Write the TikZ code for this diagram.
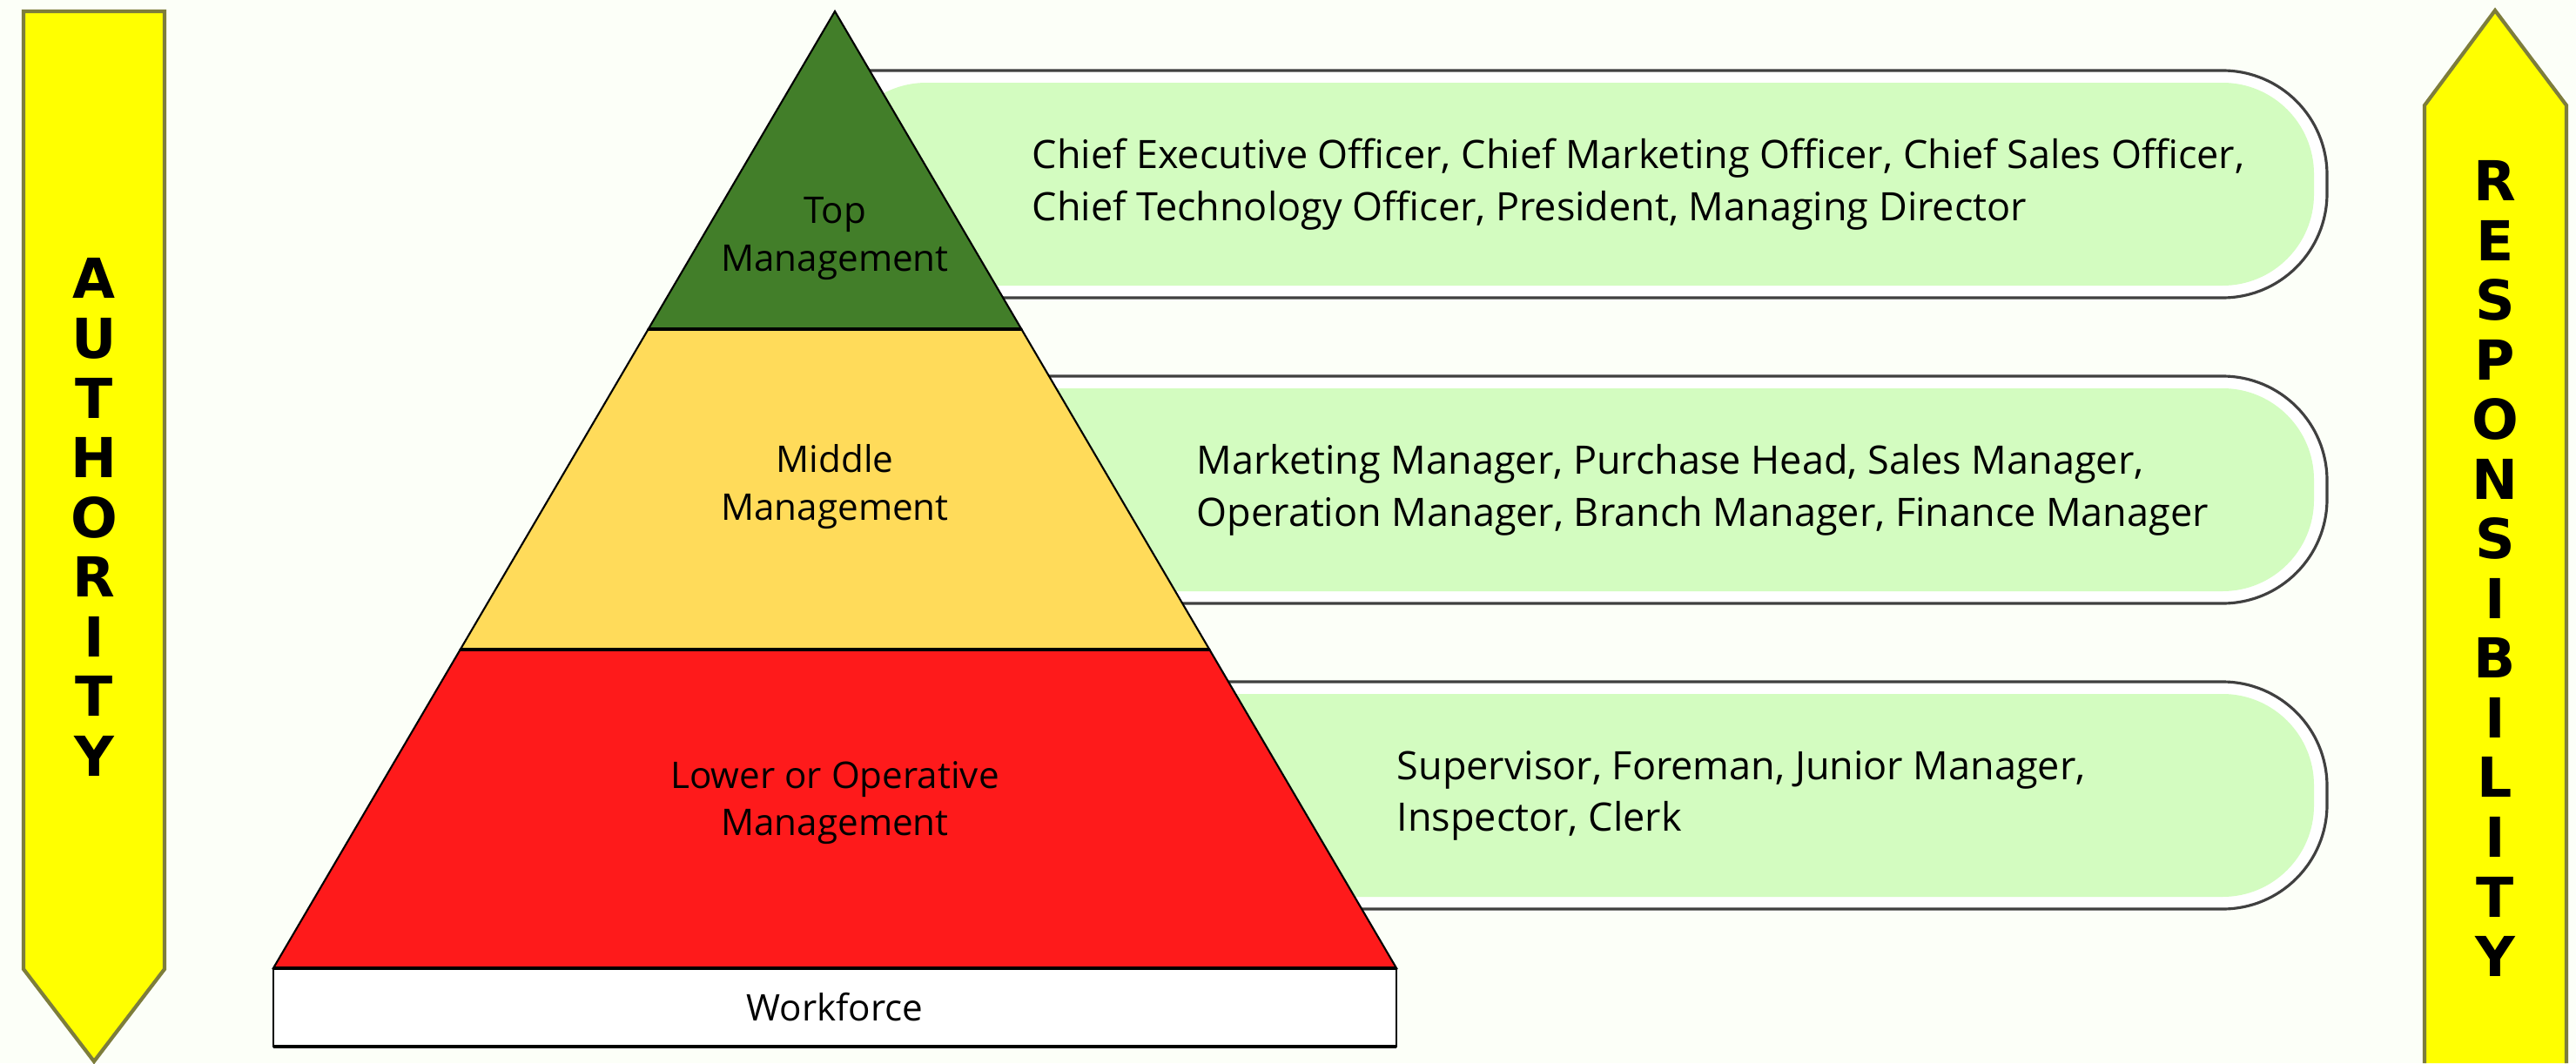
\documentclass[tikz,border=0pt]{standalone}
\usepackage{fontspec}
\setmainfont{Open Sans}
\newfontfamily\letterfont{DejaVu Sans}
\usetikzlibrary{positioning}

\definecolor{paper}{RGB}{252,255,248}
\definecolor{topgreen}{RGB}{66,126,41}
\definecolor{midyellow}{RGB}{255,219,90}
\definecolor{lowred}{RGB}{254,26,27}
\definecolor{rolegreen}{RGB}{211,252,192}
\definecolor{arrowyellow}{RGB}{255,255,0}
\definecolor{arrowedge}{RGB}{125,125,60}

\tikzset{
  layer/.style={draw=black, line width=0.6pt},
  divider/.style={line width=1.2pt},
  rolebox/.style={draw=black!75, line width=0.9pt, fill=white, rounded corners=1.2cm},
  rolefill/.style={fill=rolegreen, rounded corners=1.05cm},
  roletext/.style={anchor=west, inner sep=0pt, align=left, font=\fontsize{12.8}{17}\selectfont},
  levellabel/.style={inner sep=0pt, align=center, font=\fontsize{12}{15.5}\selectfont},
  sidearrow/.style={fill=arrowyellow, draw=arrowedge, line width=1.2pt},
  stacked/.style={inner sep=0pt, align=center, font=\letterfont\bfseries\fontsize{18}{19.5}\selectfont},
}

\begin{document}
\begin{tikzpicture}[x=1cm,y=-1cm]
  \fill[paper] (0,0) rectangle (29.59,12.21);
  \useasboundingbox (0,0) rectangle (29.59,12.21);

  % Role boxes (left ends hidden behind the pyramid)
  \draw[rolebox] (9.59,0.81) -- (26.73,0.81) -- (26.73,3.42) -- (9.59,3.42);
  \fill[rolefill] (9.59,0.95) -- (26.58,0.95) -- (26.58,3.28) -- (9.59,3.28) -- cycle;
  \draw[rolebox] (9.59,4.32) -- (26.73,4.32) -- (26.73,6.93) -- (9.59,6.93);
  \fill[rolefill] (9.59,4.46) -- (26.58,4.46) -- (26.58,6.79) -- (9.59,6.79) -- cycle;
  \draw[rolebox] (9.59,7.83) -- (26.73,7.83) -- (26.73,10.44) -- (9.59,10.44);
  \fill[rolefill] (9.59,7.97) -- (26.58,7.97) -- (26.58,10.30) -- (9.59,10.30) -- cycle;

  % Pyramid
  \draw[layer, fill=topgreen] (9.59,0.13) -- (11.733,3.78) -- (7.447,3.78) -- cycle;
  \draw[layer, fill=midyellow] (7.447,3.78) -- (11.733,3.78) -- (13.893,7.46) -- (5.287,7.46) -- cycle;
  \draw[layer, fill=lowred] (5.287,7.46) -- (13.893,7.46) -- (16.041,11.12) -- (3.139,11.12) -- cycle;
  \draw[divider] (7.447,3.78) -- (11.733,3.78);
  \draw[divider] (5.287,7.46) -- (13.893,7.46);

  % Workforce base
  \draw[layer, fill=white] (3.139,11.12) rectangle (16.041,12.02);
  \draw[divider] (3.139,11.12) -- (16.041,11.12);
  \draw[divider] (3.139,12.02) -- (16.041,12.02);

  \node[levellabel] (top) at (9.59,2.74) {Top\\Management};
  \node[levellabel] (middle) at (9.59,5.59) {Middle\\Management};
  \node[levellabel] (lower) at (9.59,9.22) {Lower or Operative\\Management};
  \node[levellabel] (workforce) at (9.59,11.57) {Workforce};

  \node[roletext] (toproles) at (11.85,2.12) {Chief Executive Officer, Chief Marketing Officer, Chief Sales Officer,\\Chief Technology Officer, President, Managing Director};
  \node[roletext] (midroles) at (13.74,5.63) {Marketing Manager, Purchase Head, Sales Manager,\\Operation Manager, Branch Manager, Finance Manager};
  \node[roletext] (lowroles) at (16.04,9.14) {Supervisor, Foreman, Junior Manager,\\Inspector, Clerk};

  % Authority arrow
  \filldraw[sidearrow] (0.27,0.13) -- (1.89,0.13) -- (1.89,11.13) -- (1.08,12.19) -- (0.27,11.13) -- cycle;
  \node[stacked] (authority) at (1.08,5.94) {A\\U\\T\\H\\O\\R\\I\\T\\Y};

  % Responsibility arrow
  \fill[arrowyellow] (27.85,12.21) -- (27.85,1.21) -- (28.66,0.12) -- (29.48,1.21) -- (29.48,12.21) -- cycle;
  \draw[sidearrow, fill=none] (27.85,12.21) -- (27.85,1.21) -- (28.66,0.12) -- (29.48,1.21) -- (29.48,12.21);
  \node[stacked] (responsibility) at (28.66,6.53) {R\\E\\S\\P\\O\\N\\S\\I\\B\\I\\L\\I\\T\\Y};
\end{tikzpicture}
\end{document}
